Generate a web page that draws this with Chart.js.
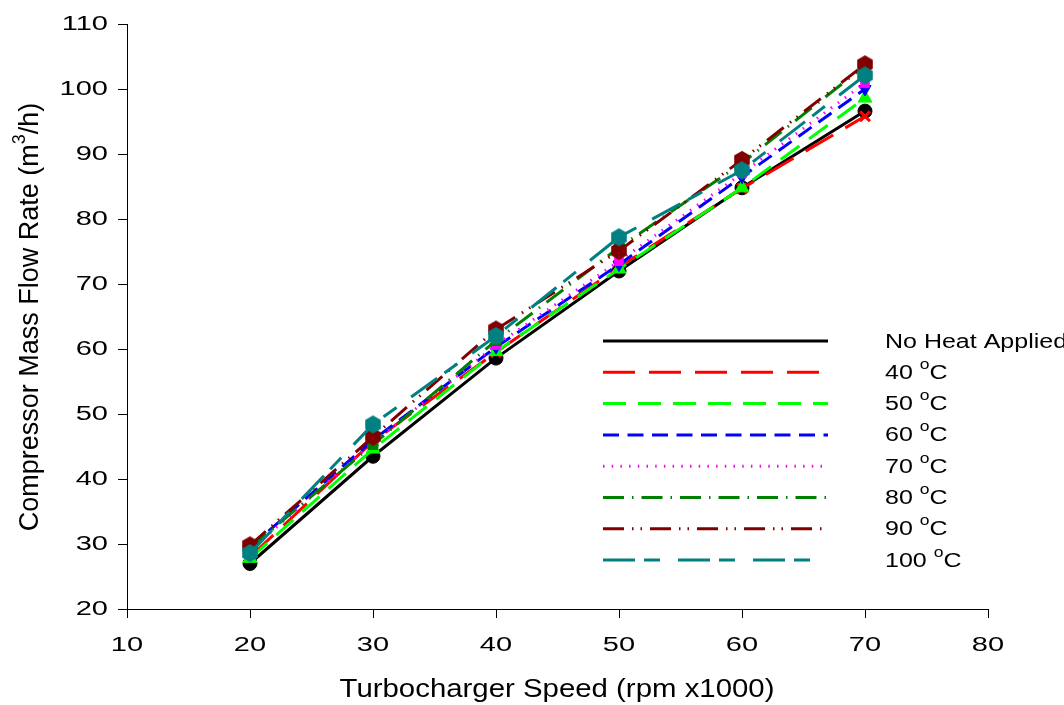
<!DOCTYPE html>
<html>
<head>
<meta charset="utf-8">
<script src="https://cdn.jsdelivr.net/npm/chart.js@4.4.1/dist/chart.umd.min.js"></script>
<style>
  html, body { margin: 0; padding: 0; background: #ffffff; }
  #wrap { width: 1064px; height: 705px; }
</style>
</head>
<body>
<div id="wrap"><canvas id="chart" width="1064" height="705"></canvas></div>
<script>
// speeds (rpm x1000)
const speeds = [20, 30, 40, 50, 60, 70];

// compressor mass flow rate (m3/h)
const noHeat = [27.0, 43.5, 58.6, 72.0, 84.8, 96.6];
const heat40 = [28.0, 45.8, 59.5, 72.6, 84.7, 95.8];
const heat50 = [27.8, 44.6, 59.6, 72.3, 84.8, 98.6];
const heat60 = [29.5, 46.0, 60.3, 73.0, 86.5, 100.0];
const heat70 = [29.0, 45.6, 60.6, 73.5, 87.0, 100.9];
const heat80 = [29.4, 45.3, 61.3, 75.6, 88.6, 103.6];
const heat90 = [29.8, 46.5, 63.0, 75.1, 89.1, 103.8];
const heat100 = [28.6, 48.4, 62.0, 77.2, 87.5, 102.1];

const seriesNames = ['No Heat Applied', '40 °C', '50 °C', '60 °C', '70 °C', '80 °C', '90 °C', '100 °C'];

const xTicks = [10, 20, 30, 40, 50, 60, 70, 80];
const yTicks = [20, 30, 40, 50, 60, 70, 80, 90, 100, 110];

const FONT = '"Liberation Sans", Arial, sans-serif';

function hexagon(color, r) {
    const c = document.createElement('canvas');
    const s = Math.ceil(r * 2 + 2);
    c.width = s;
    c.height = s;
    const g = c.getContext('2d');
    g.fillStyle = color;
    g.beginPath();
    for (let i = 0; i < 6; i++) {
        const a = -Math.PI / 2 + i * Math.PI / 3;
        const px = s / 2 + r * Math.cos(a);
        const py = s / 2 + r * Math.sin(a);
        if (i === 0) g.moveTo(px, py); else g.lineTo(px, py);
    }
    g.closePath();
    g.fill();
    return c;
}

const styles = [
    { color: '#000000', dash: [], point: 'circle', radius: 7 },
    { color: '#ff0000', dash: [32, 14], point: 'crossRot', radius: 7, pointBorder: 3 },
    { color: '#00ff00', dash: [23, 12], point: 'triangle', radius: 8 },
    { color: '#0000ff', dash: [16, 8.5], point: 'triangle', radius: 7, rotation: 180 },
    { color: '#ff00ff', dash: [1.5, 7.2], point: 'rect', radius: 6 },
    { color: '#008000', dash: [21, 8, 1.5, 8], point: 'rect', radius: 7 },
    { color: '#800000', dash: [21, 8, 1.5, 7, 1.5, 8], point: hexagon('#800000', 9), radius: 9 },
    { color: '#008080', dash: [32, 9, 16, 18], point: hexagon('#008080', 9), radius: 9 },
];

const seriesValues = [noHeat, heat40, heat50, heat60, heat70, heat80, heat90, heat100];

const datasets = seriesValues.map((vals, i) => {
    const st = styles[i];
    return {
        label: seriesNames[i],
        data: vals.map((v, k) => ({ x: speeds[k], y: v })),
        borderColor: st.color,
        backgroundColor: st.color,
        borderWidth: 3,
        borderDash: st.dash,
        pointStyle: st.point,
        pointRadius: st.radius,
        pointRotation: st.rotation || 0,
        pointBorderWidth: st.pointBorder || 1,
        pointBorderColor: st.color,
        pointBackgroundColor: st.color,
        tension: 0,
        fill: false,
        order: seriesValues.length - i,
    };
});

// text in the original figure is drawn wider than plain Arial
function richWidth(ctx, parts, size) {
    let w = 0;
    parts.forEach((p) => {
        const fs = p.sup ? Math.round(size * 0.68) : size;
        ctx.font = fs + 'px ' + FONT;
        w += ctx.measureText(p.t).width;
    });
    return w;
}

// align: 0 = left, 0.5 = centre, 1 = right
function drawRich(ctx, parts, x, y, size, stretch, align) {
    const w = richWidth(ctx, parts, size);
    ctx.save();
    ctx.translate(x, y);
    ctx.scale(stretch, 1);
    ctx.textAlign = 'left';
    ctx.textBaseline = 'middle';
    let cx = -w * align;
    parts.forEach((p) => {
        const fs = p.sup ? Math.round(size * 0.68) : size;
        ctx.font = fs + 'px ' + FONT;
        ctx.fillText(p.t, cx, p.sup ? -size * 0.42 : 0);
        cx += ctx.measureText(p.t).width;
    });
    ctx.restore();
}

const legendLabels = [
    [{ t: 'No Heat Applied' }],
    [{ t: '40 ' }, { t: 'o', sup: true }, { t: 'C' }],
    [{ t: '50 ' }, { t: 'o', sup: true }, { t: 'C' }],
    [{ t: '60 ' }, { t: 'o', sup: true }, { t: 'C' }],
    [{ t: '70 ' }, { t: 'o', sup: true }, { t: 'C' }],
    [{ t: '80 ' }, { t: 'o', sup: true }, { t: 'C' }],
    [{ t: '90 ' }, { t: 'o', sup: true }, { t: 'C' }],
    [{ t: '100 ' }, { t: 'o', sup: true }, { t: 'C' }],
];

const overlay = {
    id: 'overlay',
    afterDraw(chart) {
        const ctx = chart.ctx;
        const xs = chart.scales.x;
        const ys = chart.scales.y;
        ctx.save();
        ctx.fillStyle = '#000000';

        // tick labels
        xTicks.forEach((v) => {
            drawRich(ctx, [{ t: String(v) }], xs.getPixelForValue(v), 645, 20, 1.45, 0.5);
        });
        yTicks.forEach((v) => {
            drawRich(ctx, [{ t: String(v) }], 108, ys.getPixelForValue(v), 20, 1.45, 1);
        });

        // axis titles
        drawRich(ctx, [{ t: 'Turbocharger Speed (rpm x1000)' }], 557, 690, 26, 1.13, 0.5);
        ctx.save();
        ctx.translate(31, 317);
        ctx.rotate(-Math.PI / 2);
        drawRich(ctx, [{ t: 'Compressor Mass Flow Rate (m' }, { t: '3', sup: true }, { t: '/h)' }], 0, 0, 27, 1, 0.5);
        ctx.restore();

        // legend block
        const rowY0 = 341;
        const rowStep = 31.3;
        legendLabels.forEach((parts, i) => {
            const y = rowY0 + i * rowStep;
            const st = styles[i];
            ctx.strokeStyle = st.color;
            ctx.lineWidth = 3;
            ctx.setLineDash(st.dash);
            ctx.beginPath();
            ctx.moveTo(603, y);
            ctx.lineTo(828, y);
            ctx.stroke();
            ctx.setLineDash([]);
            ctx.fillStyle = '#000000';
            drawRich(ctx, parts, 885, y + 1, 20, 1.25, 0);
        });
        ctx.restore();
    },
};

new Chart(document.getElementById('chart'), {
    type: 'line',
    data: { datasets },
    plugins: [overlay],
    options: {
        responsive: false,
        animation: false,
        layout: { padding: { top: 24, right: 76, left: 0, bottom: 0 } },
        plugins: {
            legend: { display: false },
            tooltip: { enabled: false },
        },
        scales: {
            x: {
                type: 'linear',
                min: 10,
                max: 80,
                afterBuildTicks: (scale) => { scale.ticks = xTicks.map((v) => ({ value: v })); },
                afterFit: (scale) => { scale.height = 96; },
                grid: { drawOnChartArea: false, drawTicks: true, tickLength: 9, color: '#000000' },
                border: { display: true, color: '#000000', width: 1 },
                ticks: { display: false },
            },
            y: {
                type: 'linear',
                min: 20,
                max: 110,
                afterBuildTicks: (scale) => { scale.ticks = yTicks.map((v) => ({ value: v })); },
                afterFit: (scale) => { scale.width = 127; },
                grid: { drawOnChartArea: false, drawTicks: true, tickLength: 9, color: '#000000' },
                border: { display: true, color: '#000000', width: 1 },
                ticks: { display: false },
            },
        },
    },
});
</script>
</body>
</html>
